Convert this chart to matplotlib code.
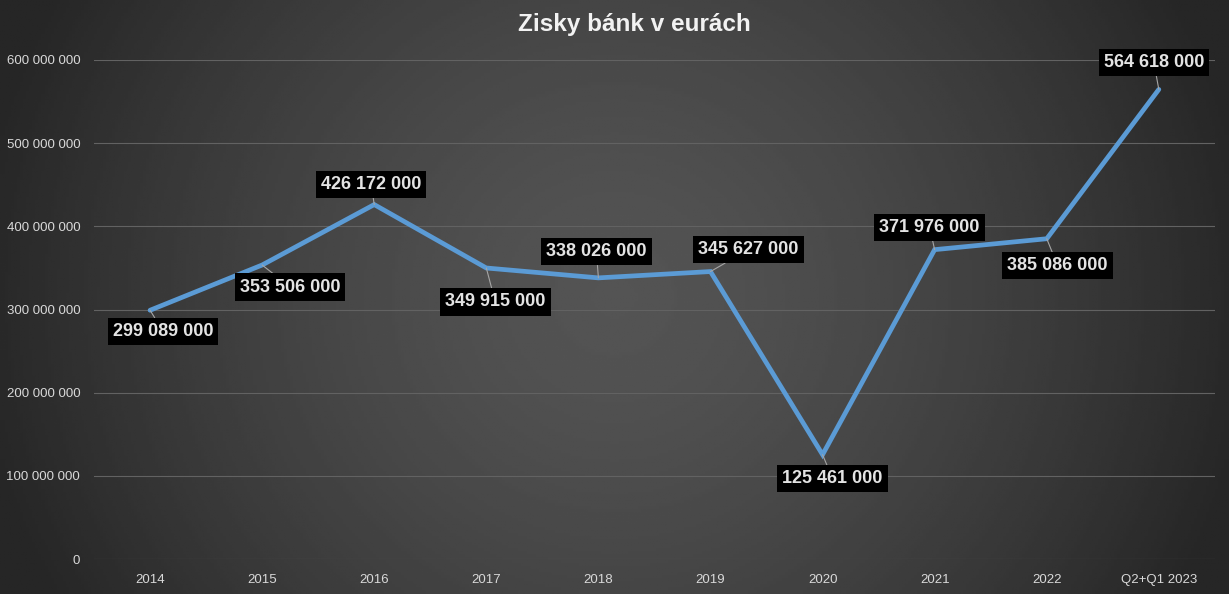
import matplotlib.pyplot as plt
import numpy as np

plt.rcParams["font.family"] = ["Liberation Sans", "DejaVu Sans"]

categories = ['2014', '2015', '2016', '2017', '2018', '2019', '2020', '2021', '2022', 'Q2+Q1 2023']
profits = [299089000, 353506000, 426172000, 349915000, 338026000,
           345627000, 125461000, 371976000, 385086000, 564618000]
# label box offsets from the point, in pixels
label_offsets = [(13, -21), (28, -22), (-3, 20), (9, -34), (-2, 26),
                 (38, 22), (10, -24), (-5, 22), (11, -27), (-5, 27)]
yticks = [0, 100000000, 200000000, 300000000, 400000000, 500000000, 600000000]


def fmt(v):
    return '{:,}'.format(int(v)).replace(',', ' ')


fig = plt.figure(figsize=(12.29, 5.94), dpi=100)

# radial background gradient
bg = fig.add_axes([0, 0, 1, 1], zorder=-1)
gx, gy = np.meshgrid(np.linspace(-1, 1, 400), np.linspace(-1, 1, 200))
r = np.clip(np.sqrt(gx ** 2 + (0.5 * gy) ** 2) / 1.05, 0, 1)
shade = (84 - 46 * r ** 1.5) / 255.0
bg.imshow(shade, cmap='gray', vmin=0, vmax=1, aspect='auto', extent=[0, 1, 0, 1])
bg.axis('off')

ax = fig.add_axes([0.0765, 0.0589, 0.912, 0.8401])
ax.set_facecolor('none')
x = np.arange(len(categories))
ax.plot(x, profits, color='#5b9bd5', linewidth=3.4, solid_capstyle='round',
        solid_joinstyle='miter', zorder=2)

for xi, v, (dx, dy) in zip(x, profits, label_offsets):
    ax.annotate(fmt(v), xy=(xi, v), xytext=(dx, dy), textcoords='offset pixels',
                ha='center', va='center', fontsize=13, fontweight='bold', color='#e3e3e3',
                bbox=dict(boxstyle='square,pad=0.28', fc='black', ec='none'),
                arrowprops=dict(arrowstyle='-', color='#a6a6a6', lw=0.8,
                                shrinkA=0, shrinkB=0),
                zorder=5)

ax.set_xlim(-0.5, len(categories) - 0.5)
ax.set_ylim(0, 600000000)
ax.set_xticks(x)
ax.set_xticklabels(categories)
ax.set_yticks(yticks)
ax.set_yticklabels([fmt(t) for t in yticks])
ax.tick_params(axis='both', length=0, colors='#d9d9d9', labelsize=9.5)
ax.tick_params(axis='y', pad=10)
ax.tick_params(axis='x', pad=11)
ax.grid(axis='y', color='#626262', linewidth=0.8)
ax.set_axisbelow(True)
for s in ax.spines.values():
    s.set_visible(False)

fig.text(0.516, 0.958, 'Zisky bánk v eurách', ha='center', va='center',
         fontsize=17.5, fontweight='bold', color='#f2f2f2')

fig.savefig('out.png', dpi=100)
